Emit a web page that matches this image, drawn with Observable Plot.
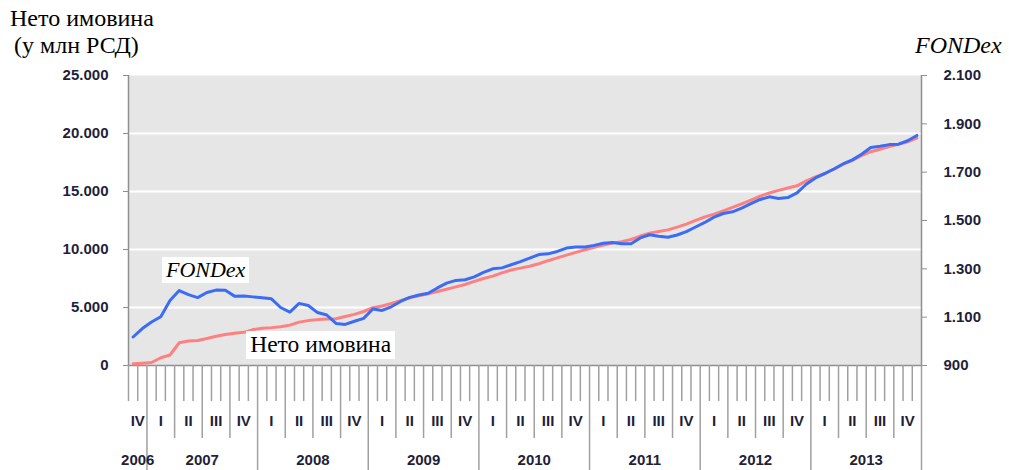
<!DOCTYPE html>
<html><head><meta charset="utf-8">
<script src="https://cdn.jsdelivr.net/npm/d3@7"></script>
<script src="https://cdn.jsdelivr.net/npm/@observablehq/plot@0.6"></script>
<style>
body{margin:0;background:#fff;}
#wrap{position:relative;width:1009px;height:470px;overflow:hidden;}
.serif{position:absolute;font-family:"Liberation Serif","Times New Roman",serif;color:#000;white-space:nowrap;line-height:1;}
.box{background:#fff;padding:2px 4px;}
</style></head><body><div id="wrap"></div>
<script>
// Monthly data, Nov 2006 – Dec 2013
const netAssets = [150,200,260,670,905,1960,2120,2155,2330,2520,2670,2785,2860,3095,3215,3265,3335,3480,3740,3870,3955,4000,4030,4225,4405,4655,4990,5130,5345,5595,5845,6010,6180,6380,6575,6775,6980,7250,7500,7705,7980,8230,8395,8560,8775,9035,9275,9515,9750,9975,10180,10380,10550,10680,10860,11160,11410,11550,11690,11930,12190,12515,12800,13050,13335,13630,13940,14265,14600,14870,15095,15300,15490,15910,16250,16550,16930,17360,17670,18095,18430,18645,18880,19060,19290,19610];
const fondex = [1018,1053,1080,1102,1169,1210,1193,1181,1202,1212,1211,1187,1188,1184,1180,1176,1140,1121,1157,1148,1119,1109,1074,1070,1083,1095,1134,1128,1143,1165,1182,1192,1199,1221,1241,1252,1255,1267,1285,1300,1304,1317,1330,1344,1359,1362,1372,1386,1390,1390,1397,1406,1409,1404,1404,1428,1441,1435,1431,1440,1454,1473,1492,1514,1529,1536,1551,1570,1587,1598,1591,1595,1614,1650,1676,1694,1713,1734,1751,1774,1802,1807,1814,1816,1830,1852];
const startYear = 2006, startMonth = 10; // 0-based month: November
const leftTicks = [0,5000,10000,15000,20000,25000];
const rightTicks = [900,1100,1300,1500,1700,1900,2100];
const quarterNames = ["I","II","III","IV"];
const yearLabels = ["2006","2007","2008","2009","2010","2011","2012","2013"];
const titleLeft = ["Нето имовина","(у млн РСД)"];
const titleRight = "FONDex";
const inlineLabels = [
  {text:"FONDex", italic:true, size:22, month:8.4, value:8200},
  {text:"Нето имовина", italic:false, size:23.5, month:20.9, value:1720}
];

const N = netAssets.length;
const lMin = leftTicks[0], lMax = leftTicks[leftTicks.length-1];
const rMin = rightTicks[0], rMax = rightTicks[rightTicks.length-1];
const toLeft = f => lMin + (f - rMin) / (rMax - rMin) * (lMax - lMin);
const fromLeft = v => rMin + (v - lMin) / (lMax - lMin) * (rMax - rMin);
const loc = d3.formatLocale({decimal:",", thousands:".", grouping:[3], currency:["",""]});
const fmt = loc.format(",");

const rows = netAssets.map((v,i)=>({mid:i+0.5, net:v, fx:fondex[i]}));
const calMonth = b => (startMonth + b) % 12;
const bounds = d3.range(0, N+1);
const yearB = bounds.filter(b => b>0 && calMonth(b)===0);
const quarterB = bounds.filter(b => b>0 && calMonth(b)%3===0 && !yearB.includes(b));
const monthB = bounds.filter(b => !yearB.includes(b) && !quarterB.includes(b));
const qGroups = d3.groups(d3.range(N), i => Math.floor((startMonth+i)/3));
const qCenters = qGroups.map(([q,idx]) => ({c:(idx[0]+idx[idx.length-1]+1)/2, name:quarterNames[q%4]}));
const yGroups = d3.groups(d3.range(N), i => Math.floor((startMonth+i)/12));
const yCenters = yGroups.map(([y,idx]) => ({c:(idx[0]+idx[idx.length-1]+1)/2, name:yearLabels[y]}));
const qMap = new Map(qCenters.map(d=>[d.c,d.name]));
const yMap = new Map(yCenters.map(d=>[d.c,d.name]));

const axisColor = "#8f8f8f";
const chart = Plot.plot({
  width:1009, height:470,
  marginLeft:128, marginRight:88, marginTop:75, marginBottom:105,
  style:{fontFamily:"'Liberation Sans',Arial,sans-serif", fontSize:"15px", fontWeight:"bold", color:"#1f1f3a", background:"#fff"},
  x:{domain:[0,N], label:null},
  y:{domain:[lMin,lMax], label:null},
  marks:[
    Plot.frame({fill:"#e6e6e6", stroke:null}),
    Plot.ruleY(leftTicks.filter(v=>v>lMin && v<lMax), {stroke:"#fff", strokeWidth:2}),
    Plot.ruleX([0,N], {stroke:axisColor, strokeWidth:1.5}),
    Plot.ruleY([lMin], {stroke:axisColor, strokeWidth:1.5}),
    Plot.axisY({ticks:leftTicks, tickSize:5, tickPadding:15, tickFormat:fmt, stroke:axisColor}),
    Plot.axisY({anchor:"right", ticks:rightTicks.map(toLeft), tickSize:5, tickPadding:17, tickFormat:v=>fmt(Math.round(fromLeft(v))), stroke:axisColor}),
    Plot.axisX({ticks:monthB, tickSize:36, tickFormat:()=>"", stroke:"#a0a0a0", strokeWidth:1.5}),
    Plot.axisX({ticks:quarterB, tickSize:73, tickFormat:()=>"", stroke:"#a0a0a0", strokeWidth:1.5}),
    Plot.axisX({ticks:yearB, tickSize:110, tickFormat:()=>"", stroke:"#a0a0a0", strokeWidth:1.5}),
    Plot.axisX({ticks:qCenters.map(d=>d.c), tickSize:0, tickPadding:50, tickFormat:c=>qMap.get(c)}),
    Plot.axisX({ticks:yCenters.map(d=>d.c), tickSize:0, tickPadding:89, tickFormat:c=>yMap.get(c)}),
    Plot.line(rows, {x:"mid", y:"net", stroke:"#ff8080", strokeWidth:3}),
    Plot.line(rows, {x:"mid", y:d=>toLeft(d.fx), stroke:"#3b6cf5", strokeWidth:3})
  ]
});
const wrap = document.getElementById("wrap");
wrap.append(chart);
function addText(txt, left, top, size, italic, cls){
  const d = document.createElement("div");
  d.className = "serif" + (cls?(" "+cls):"");
  d.textContent = txt; d.style.left = left+"px"; d.style.top = top+"px";
  d.style.fontSize = size+"px"; if (italic) d.style.fontStyle = "italic";
  wrap.append(d); return d;
}
addText(titleLeft[0], 10, 6, 24);
addText(titleLeft[1], 14, 33, 24);
addText(titleRight, 915, 33, 24, true);
const sx = chart.scale("x"), sy = chart.scale("y");
for (const l of inlineLabels){
  const d = addText(l.text, 0, 0, l.size, l.italic, "box");
  const w = d.offsetWidth, h = d.offsetHeight;
  d.style.left = (sx.apply(l.month) - w/2) + "px";
  d.style.top = (sy.apply(l.value) - h/2) + "px";
}
</script></body></html>
